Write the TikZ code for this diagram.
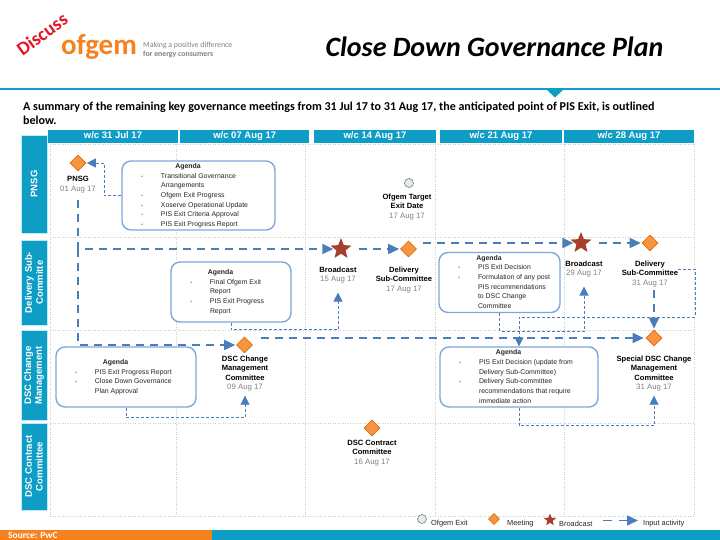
\documentclass[tikz,border=0pt]{standalone}
\usepackage{fontspec}
\usepackage{array}
\setmainfont{Liberation Sans}
\newfontfamily\carlito{Carlito}
\usetikzlibrary{arrows.meta, positioning, shapes.geometric}
\definecolor{tealbar}{HTML}{0E9DC4}
\definecolor{orangebar}{HTML}{F58220}
\definecolor{mtgedge}{HTML}{E36C0A}
\definecolor{arrblue}{HTML}{4A7EBB}
\definecolor{boxblue}{HTML}{7EA6D8}
\definecolor{starred}{HTML}{A5402A}
\definecolor{dategrey}{HTML}{808080}
\definecolor{exitfill}{HTML}{E6EAE2}
\definecolor{exitedge}{HTML}{6E7F9E}
\newcommand{\agendafont}{\fontsize{6.9}{9.7}\selectfont}
\newcommand{\datetxt}[1]{{\mdseries\color{dategrey}\fontsize{7.8}{9.6}\selectfont #1}}
\newcommand{\agendahead}{\multicolumn{2}{c}{\hspace{-21pt}\textbf{Agenda}}}
\newenvironment{agendatab}[1]{\begin{tabular}{@{\hspace{19pt}}p{20pt}@{}>{\raggedright\arraybackslash}p{#1}@{\hspace{4pt}}}\agendahead\\}{\end{tabular}}

\begin{document}
\begin{tikzpicture}[
    x=1pt, y=-1pt,
    week/.style={fill=tealbar, text=white, font=\fontsize{9.5}{11}\selectfont\bfseries, inner sep=0pt, minimum height=13.5pt, text height=7pt, text depth=2pt},
    lane/.style={fill=tealbar, draw=cyan!25, line width=0.5pt, text=white, font=\fontsize{9.5}{10.8}\selectfont\bfseries, align=center, inner sep=0pt, minimum height=26pt, rotate=90},
    griddot/.style={draw=black!20, line width=0.5pt, dash pattern=on 1pt off 1.5pt},
    agendabox/.style={draw=boxblue, line width=1.4pt, rounded corners=9pt, fill=white, inner sep=0pt, text=black!85, align=left, font=\agendafont},
    mtg/.style={diamond, draw=mtgedge, fill=orangebar!85, line width=0.6pt, minimum size=#1, inner sep=0pt},
    mtg/.default=16pt,
    broadstar/.style={star, star points=5, star point ratio=2.3, fill=starred, minimum size=#1, inner sep=0pt},
    broadstar/.default=22pt,
    exitmark/.style={circle, draw=exitedge, fill=exitfill, line width=0.6pt, minimum size=9pt, inner sep=0pt},
    mlabel/.style={align=center, font=\fontsize{7.6}{9.6}\selectfont\bfseries, inner sep=0pt},
    leg/.style={font=\fontsize{7.4}{9}\selectfont, text=black!85, anchor=west, inner sep=0pt},
    inthick/.style={draw=arrblue, line width=1.6pt, dash pattern=on 8pt off 6pt, -{Triangle[length=11pt,width=10pt]}},
    inthin/.style={draw=arrblue, line width=0.8pt, dash pattern=on 3pt off 2pt, -{Triangle[length=9pt,width=9pt]}}
]
\useasboundingbox (0,0) rectangle (720,540);

% header
\node[font=\carlito\bfseries\fontsize{19}{19}\selectfont, text={rgb,255:red,226;green,20;blue,40}, rotate=36] (discuss) at (42,34) {Discuss};
\node[font=\carlito\bfseries\fontsize{29}{29}\selectfont, text=orangebar, inner sep=0pt] (logo) at (99,47) {ofgem};
\node[font=\carlito\fontsize{7.8}{9.4}\selectfont, text=black!50, align=left, anchor=west, inner sep=0pt] (tagline) at (143,50) {Making a positive difference\\{\bfseries for energy consumers}};
\node[font=\carlito\bfseries\itshape\fontsize{28}{28}\selectfont, inner sep=0pt] (title) at (494.5,47) {Close Down Governance Plan};
\fill[tealbar] (0,88) rectangle (720,90.5);
\fill[tealbar] (547,90) -- (563,90) -- (555,97.5) -- cycle;
\node[font=\carlito\bfseries\fontsize{12.05}{14}\selectfont, align=left, anchor=north west, inner sep=0pt] (summary) at (23,102) {A summary of the remaining key governance meetings from 31 Jul 17 to 31 Aug 17, the anticipated point of PIS Exit, is outlined\\below.};

% week headers
\node[week, minimum width=130pt] (wkA) at (113,136.3) {w/c 31 Jul 17};
\node[week, minimum width=129.5pt] (wkB) at (244.7,136.3) {w/c 07 Aug 17};
\node[week, minimum width=122pt] (wkC) at (375,136.3) {w/c 14 Aug 17};
\node[week, minimum width=122pt] (wkD) at (501,136.3) {w/c 21 Aug 17};
\node[week, minimum width=130pt] (wkE) at (629,136.3) {w/c 28 Aug 17};

% lanes
\node[lane, text width=98pt] (lanePnsg) at (34,184) {PNSG};
\node[lane, text width=85pt] (laneDel) at (34,282.5) {Delivery Sub-\\Committe};
\node[lane, text width=90pt] (laneDsc) at (34,375.5) {DSC Change\\Management};
\node[lane, text width=87pt] (laneCon) at (34,466.5) {DSC Contract\\Committee};

% grid
\draw[griddot] (50,144) -- (694,144);
\draw[griddot] (50,237) -- (694,237);
\draw[griddot] (50,330) -- (694,330);
\draw[griddot] (50,423) -- (694,423);
\draw[griddot] (50,516) -- (694,516);
\draw[griddot] (50,144) -- (50,516);
\draw[griddot] (176,144) -- (176,516);
\draw[griddot] (305,144) -- (305,516);
\draw[griddot] (435,144) -- (435,516);
\draw[griddot] (564,144) -- (564,516);
\draw[griddot] (694,144) -- (694,516);

% agenda boxes
\node[agendabox, minimum width=153pt, minimum height=69pt] (agendaPnsg) at (198.5,195.5) {\begin{agendatab}{110pt}
- & Transitional Governance\\
 & Arrangements\\
- & Ofgem Exit Progress\\
- & Xoserve Operational Update\\
- & PIS Exit Criteria Approval\\
- & PIS Exit Progress Report
\end{agendatab}};
\node[agendabox, minimum width=120pt, minimum height=60pt] (agendaDelA) at (231,292) {\begin{agendatab}{77pt}
- & Final Ofgem Exit\\
 & Report\\
- & PIS Exit Progress\\
 & Report
\end{agendatab}};
\node[agendabox, minimum width=121pt, minimum height=60pt] (agendaDelB) at (499.5,282.5) {\begin{agendatab}{78pt}
- & PIS Exit Decision\\
- & Formulation of any post\\
 & PIS recommendations\\
 & to DSC Change\\
 & Committee
\end{agendatab}};
\node[agendabox, minimum width=140pt, minimum height=60pt] (agendaDscA) at (126,377) {\begin{agendatab}{97pt}
- & PIS Exit Progress Report\\
- & Close Down Governance\\
 & Plan Approval
\end{agendatab}};
\node[agendabox, minimum width=158pt, minimum height=60pt] (agendaDscB) at (519,377) {\begin{agendatab}{115pt}
- & PIS Exit Decision (update from\\
 & Delivery Sub-Committee)\\
- & Delivery Sub-committee\\
 & recommendations that require\\
 & immediate action
\end{agendatab}};

% meetings, broadcasts, exit date
\node[mtg] (mtgPnsg) at (78,163) {};
\node[mlabel, below=5pt of mtgPnsg] (labelPnsg) {PNSG\\\datetxt{01 Aug 17}};
\node[exitmark] (exitTarget) at (409,183) {};
\node[mlabel] (labelExit) at (407,207) {Ofgem Target\\Exit Date\\\datetxt{17 Aug 17}};
\node[broadstar] (starA) at (341,249) {};
\node[mlabel] (labelBroadA) at (338,275) {Broadcast\\\datetxt{15 Aug 17}};
\node[mtg] (mtgDelA) at (408.5,249) {};
\node[mlabel] (labelDelA) at (404,280) {Delivery\\Sub-Committee\\\datetxt{17 Aug 17}};
\node[broadstar] (starB) at (581,243) {};
\node[mlabel] (labelBroadB) at (584,269) {Broadcast\\\datetxt{29 Aug 17}};
\node[mtg] (mtgDelB) at (650,243) {};
\node[mlabel] (labelDelB) at (650,274) {Delivery\\Sub-Committee\\\datetxt{31 Aug 17}};
\node[mtg] (mtgDsc) at (244.5,345) {};
\node[mlabel] (labelDsc) at (245,373.5) {DSC Change\\Management\\Committee\\\datetxt{09 Aug 17}};
\node[mtg] (mtgSpecial) at (654,338) {};
\node[mlabel] (labelSpecial) at (654,373.5) {Special DSC Change\\Management\\Committee\\\datetxt{31 Aug 17}};
\node[mtg] (mtgContract) at (372,428) {};
\node[mlabel] (labelContract) at (372,453) {DSC Contract\\Committee\\\datetxt{16 Aug 17}};

% input activity
\coordinate (pnsgTurn) at (104,163);
\coordinate (pnsgStart) at (78,200);
\coordinate (pnsgDrop) at (78,249);
\coordinate (dscDrop) at (78,345);
\coordinate (delStart) at (423,243);
\coordinate (dscStart) at (261,338);
\coordinate (delTurnA) at (695,269);
\coordinate (delTurnB) at (695,317);
\draw[inthin, shorten >=0.5pt] (agendaPnsg.west) -| (pnsgTurn) -- (mtgPnsg.east);
\draw[inthick, shorten >=1pt] (pnsgStart) -- (pnsgDrop) -- (starA.west);
\draw[inthick, shorten >=1pt] (pnsgDrop) -- (dscDrop) -- (mtgDsc.west);
\draw[inthick, shorten <=11pt, shorten >=1pt] (starA.east) -- (mtgDelA.west);
\draw[inthick, shorten >=1pt] (delStart) -- (starB.west);
\draw[inthick, shorten <=11pt, shorten >=1pt] (starB.east) -- (mtgDelB.west);
\draw[inthick, shorten >=2pt] (dscStart) -- (mtgSpecial.west);
\draw[inthick, shorten <=3pt, shorten >=1pt] (mtgSpecial.north |- labelDelB.south) -- (mtgSpecial.north);
\draw[inthin, shorten >=9pt] (agendaDelA.south) -- ++(0,7) -| (labelBroadA.south);
\draw[inthin, shorten >=9pt] (agendaDelB.south) -- ++(0,18) -| (labelBroadB.south);
\draw[inthin, shorten >=4pt] (agendaDscA.south) -- ++(0,10) -| (labelDsc.south);
\draw[inthin, shorten >=4pt] (agendaDscB.south) -- ++(0,18) -| (labelSpecial.south);
\draw[inthin] (labelDelB.east |- delTurnA) -- (delTurnA) -- (delTurnB) -| (agendaDscB.north);

% legend
\node[exitmark] (legExit) at (422,519) {};
\node[leg] (legExitTxt) at (431,524) {Ofgem Exit};
\node[mtg=11pt] (legMtg) at (494,519) {};
\node[leg] (legMtgTxt) at (507,524) {Meeting};
\node[broadstar=13pt] (legStar) at (550,520) {};
\node[leg] (legStarTxt) at (559,524) {Broadcast};
\coordinate (legArrA) at (603,520.5);
\node[leg] (legArrTxt) at (643,524) {Input activity};
\draw[inthick, dash pattern=on 9pt off 7pt, shorten >=5pt] (legArrA) -- (legArrTxt.west |- legArrA);

% footer
\fill[tealbar] (212,530) rectangle (720,540);
\fill[orangebar] (0,530) rectangle (212,540);
\node[font=\carlito\bfseries\fontsize{9.5}{9.5}\selectfont, text=white, anchor=west, inner sep=0pt] (source) at (8,535.5) {Source: PwC};
\end{tikzpicture}
\end{document}
